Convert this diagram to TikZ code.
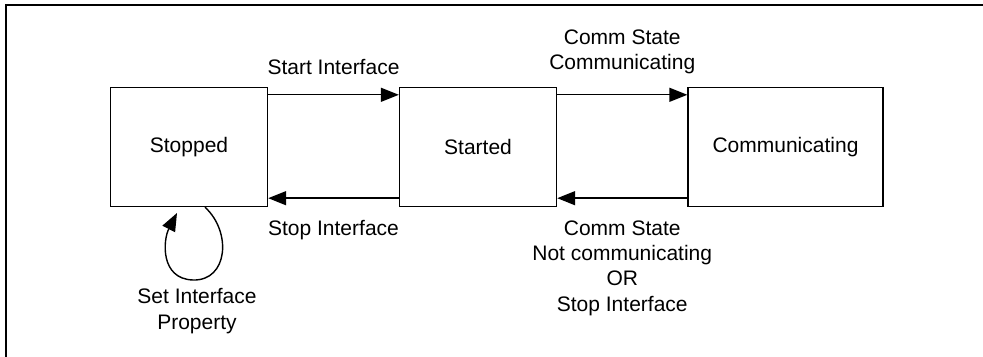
\documentclass[tikz,border=0pt]{standalone}
\usepackage{fontspec}
\setmainfont{Liberation Sans}
\usetikzlibrary{arrows.meta,calc,positioning}

\begin{document}
\begin{tikzpicture}[x=0.5pt,y=-0.5pt,font=\fontsize{10.5}{12.6}\selectfont,>={Triangle[length=9pt,width=7pt]},
        st/.style={draw,line width=.7pt,minimum width=78.5pt,minimum height=59.5pt,inner sep=0pt},
        lbl/.style={align=center,inner sep=0pt}]
        \useasboundingbox (0,0) rectangle (983,357);
        \draw[line width=1.3pt] (983,5) -- (6,5) -- (6,357);
        \node[st] (stopped) at (189,147) {Stopped};
        \node[st] (started) at (478,147) {Started};
        \node[st,minimum width=97.5pt] (comm) at (785.5,147) {Communicating};
        \draw[->,line width=.7pt] ([yshift=-4pt]stopped.north east) -- ([yshift=-4pt]started.north west)
          node[lbl,midway,yshift=14pt]{Start Interface};
        \draw[->,line width=.7pt] ([yshift=4.5pt]started.south west) -- ([yshift=4.5pt]stopped.south east)
          node[lbl,midway,yshift=-16pt]{Stop Interface};
        \draw[->,line width=.7pt] ([yshift=-4pt]started.north east) -- ([yshift=-4pt]comm.north west)
          node[lbl,midway,yshift=21.5pt]{Comm State\\Communicating};
        \draw[->,line width=.7pt] ([yshift=4.5pt]comm.south west) -- ([yshift=4.5pt]started.south east)
          node[lbl,midway,yshift=-35pt]{Comm State\\Not communicating\\OR\\Stop Interface};
        % self loop under Stopped
        \coordinate (loopend) at (177,213);
        \draw[->,line width=.7pt] ([xshift=8pt]stopped.south) .. controls (232,232) and (228,281) .. (193,280)
          .. controls (160,279) and (163,240) .. (loopend);
        \node[lbl] (loopLbl) at (197,311) {Set Interface\\Property};
\end{tikzpicture}
\end{document}
